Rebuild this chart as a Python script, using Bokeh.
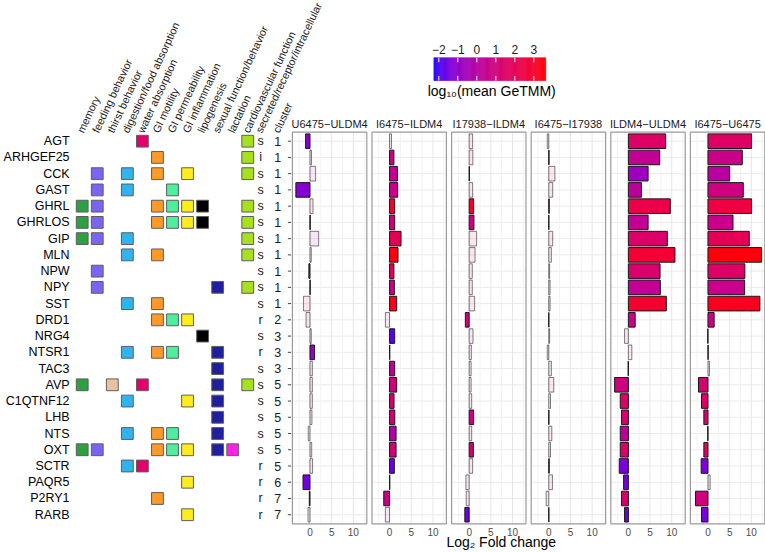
import numpy as np
from bokeh.plotting import figure
from bokeh.models import Range1d, ColumnDataSource, LinearColorMapper
from bokeh.transform import transform
from bokeh.embed import file_html
from bokeh.resources import INLINE
from bokeh.core.properties import value

# ---------------- data ----------------
genes = ["AGT", "ARHGEF25", "CCK", "GAST", "GHRL", "GHRLOS", "GIP", "MLN", "NPW", "NPY",
         "SST", "DRD1", "NRG4", "NTSR1", "TAC3", "AVP", "C1QTNF12", "LHB", "NTS", "OXT",
         "SCTR", "PAQR5", "P2RY1", "RARB"]

categories = ["memory", "feeding behavior", "thirst behavior", "digestion/food absorption",
              "water absorption", "GI motility", "GI permeability", "GI inflammation",
              "lipogenesis", "sexual function/behavior", "lactation", "cardiovascular function"]
category_colors = ["#2ca042", "#7a64f2", "#e8c2a2", "#30b4f0", "#e6006e", "#ff9a2a",
                   "#4def9e", "#ffec1c", "#000000", "#20209e", "#ff20e8", "#a6e01e"]
extra_columns = ["secreted/receptor/intracellular", "cluster"]

gene_functions = [
    ["water absorption", "cardiovascular function"],
    ["GI motility", "cardiovascular function"],
    ["feeding behavior", "digestion/food absorption", "GI motility", "GI inflammation", "cardiovascular function"],
    ["feeding behavior", "digestion/food absorption", "GI permeability"],
    ["memory", "feeding behavior", "GI motility", "GI permeability", "GI inflammation", "lipogenesis", "cardiovascular function"],
    ["memory", "feeding behavior", "GI motility", "GI permeability", "GI inflammation", "lipogenesis", "cardiovascular function"],
    ["memory", "feeding behavior", "digestion/food absorption", "cardiovascular function"],
    ["digestion/food absorption", "GI motility", "cardiovascular function"],
    ["feeding behavior"],
    ["feeding behavior", "sexual function/behavior", "cardiovascular function"],
    ["digestion/food absorption", "GI motility"],
    ["GI motility", "GI permeability", "GI inflammation"],
    ["lipogenesis"],
    ["digestion/food absorption", "GI motility", "GI permeability", "sexual function/behavior"],
    ["sexual function/behavior"],
    ["memory", "thirst behavior", "water absorption", "sexual function/behavior", "cardiovascular function"],
    ["digestion/food absorption", "GI inflammation", "sexual function/behavior"],
    ["sexual function/behavior"],
    ["digestion/food absorption", "GI motility", "GI permeability", "sexual function/behavior"],
    ["memory", "feeding behavior", "GI motility", "GI permeability", "GI inflammation", "sexual function/behavior", "lactation"],
    ["digestion/food absorption", "water absorption"],
    ["GI inflammation"],
    ["GI motility"],
    ["GI inflammation"],
]
gene_type = ["s", "i", "s", "s", "s", "s", "s", "s", "s", "s", "s", "r",
             "s", "r", "s", "s", "s", "s", "s", "s", "r", "r", "r", "r"]
gene_cluster = [1, 1, 1, 1, 1, 1, 1, 1, 1, 1, 1, 2, 3, 3, 3, 5, 5, 5, 5, 5, 5, 6, 7, 7]

comparisons = ["U6475\u2212ULDM4", "I6475\u2212ILDM4", "I17938\u2212ILDM4",
               "I6475\u2212I17938", "ILDM4\u2212ULDM4", "I6475\u2212U6475"]

# log2 fold change per comparison
fc_U6475_ULDM4 = [-1.0, 0.35, 1.3, -3.25, 0.7, 0.05, 2.0, 0.3, -0.25, 0.05, -1.5, -0.9,
                  0.3, 1.05, 0.55, 0.55, 0.55, 0.45, -0.4, 0.4, 0.6, -1.6, -0.15, -0.45]
fc_I6475_ILDM4 = [0.45, 1.0, 1.8, 1.87, 1.18, 1.18, 2.64, 1.95, 1.0, 1.1, 1.64, -0.96,
                  1.18, 0.05, 1.18, 1.64, 1.03, 1.2, 1.5, 1.5, 1.1, 0.05, -1.34, -0.96]
fc_I17938_ILDM4 = [0.8, 0.85, 0.05, 0.8, 1.03, 1.1, 1.72, 1.35, 0.72, 0.72, 1.26, -0.88,
                   0.88, 0.5, 0.45, 0.45, 0.58, 1.03, 0.58, 0.96, 0.8, -0.75, -0.68, -1.0]
fc_I6475_I17938 = [-0.35, 0.05, 1.41, 0.9, 0.1, 0.02, 0.9, 0.6, 0.2, 0.3, 0.3, 0.02,
                   0.2, -0.35, 0.6, 1.15, 0.4, 0.03, 0.7, 0.4, 0.1, 0.85, -0.6, 0.02]
fc_ILDM4_ULDM4 = [8.6, 7.22, 4.55, 3.0, 9.67, 4.55, 8.98, 10.74, 7.3, 7.37, 8.75, 1.57,
                  -0.88, 0.8, -0.05, -3.17, -1.87, -1.57, -1.87, -1.87, -2.1, -1.1, -1.57, -0.88]
fc_I6475_U6475 = [10.05, 7.91, 5.0, 8.14, 10.05, 5.77, 9.52, 12.35, 8.5, 8.45, 11.97, 1.42,
                  -0.05, 0.05, 0.35, -2.18, -1.49, -0.95, -0.05, -0.95, -1.57, 0.5, -2.87, -1.49]

# log10(mean GeTMM) per comparison
getmm_U6475_ULDM4 = [-1.1, 0.5, 0.0, -1.2, 2.5, 0.5, 0.0, 0.5, 1.0, 0.5, 2.5, 2.0,
                     0.0, -0.7, 1.5, 1.5, 1.5, 1.0, 0.5, 1.5, 0.0, -1.5, 1.0, 0.0]
getmm_I6475_ILDM4 = [0.5, 0.8, 0.5, 0.7, 3.0, 0.9, 2.0, 3.4, 1.9, 0.8, 3.2, 0.0,
                     -1.8, 0.5, 0.3, 0.9, 1.3, 1.0, -0.2, 1.2, -1.6, 0.5, 0.8, 0.0]
getmm_I17938_ILDM4 = [2.5, 2.5, 0.5, 2.0, 3.0, 0.8, 2.5, 2.5, 2.0, 2.0, 2.5, 1.0,
                      0.0, 0.5, 1.0, 1.0, 1.5, 0.9, 1.5, 1.4, 0.0, 0.0, 0.5, -1.6]
getmm_I6475_I17938 = [0.5, 0.5, 1.5, 1.5, 0.5, 0.5, 2.0, 1.5, 0.5, 0.5, 0.5, 0.5,
                      0.5, 0.5, 1.5, 2.5, 0.5, 0.5, 1.5, 0.5, 0.5, 0.0, 0.0, 0.5]
getmm_ILDM4_ULDM4 = [1.6, 0.4, -0.7, 0.2, 2.3, 0.4, 1.5, 2.8, 1.4, 0.4, 2.9, 0.8,
                     0.0, 0.5, 0.5, 0.9, 1.7, 1.3, 0.2, 1.6, -1.4, -1.5, 1.4, -1.6]
getmm_I6475_U6475 = [1.6, 0.7, 0.1, 0.9, 2.5, 0.6, 2.0, 3.5, 1.6, 0.6, 3.2, 0.8,
                     0.5, 0.5, 0.5, 1.3, 1.6, 1.5, 0.5, 1.8, -1.3, 0.0, 1.0, -1.4]

# significance (1 = significant)
sig_U6475_ULDM4 = [1, 0, 0, 1, 0, 1, 0, 0, 1, 1, 0, 0, 0, 1, 0, 0, 0, 0, 0, 0, 0, 1, 1, 0]
sig_I6475_ILDM4 = [0, 1, 1, 1, 1, 1, 1, 1, 1, 1, 1, 0, 1, 1, 1, 1, 1, 1, 1, 1, 1, 1, 1, 0]
sig_I17938_ILDM4 = [0, 0, 1, 0, 1, 1, 0, 0, 0, 0, 0, 1, 0, 0, 0, 0, 0, 1, 0, 1, 0, 0, 0, 1]
sig_I6475_I17938 = [0, 1, 0, 0, 1, 1, 0, 0, 0, 0, 0, 1, 0, 0, 0, 0, 0, 1, 0, 0, 1, 0, 0, 1]
sig_ILDM4_ULDM4 = [1, 1, 1, 1, 1, 1, 1, 1, 1, 1, 1, 1, 0, 0, 1, 1, 1, 1, 1, 1, 1, 1, 1, 1]
sig_I6475_U6475 = [1, 1, 1, 1, 1, 1, 1, 1, 1, 1, 1, 1, 1, 1, 0, 1, 1, 1, 1, 1, 1, 0, 1, 1]

fold_changes = [fc_U6475_ULDM4, fc_I6475_ILDM4, fc_I17938_ILDM4,
                fc_I6475_I17938, fc_ILDM4_ULDM4, fc_I6475_U6475]
getmm_values = [getmm_U6475_ULDM4, getmm_I6475_ILDM4, getmm_I17938_ILDM4,
                getmm_I6475_I17938, getmm_ILDM4_ULDM4, getmm_I6475_U6475]
significance = [sig_U6475_ULDM4, sig_I6475_ILDM4, sig_I17938_ILDM4,
                sig_I6475_I17938, sig_ILDM4_ULDM4, sig_I6475_U6475]

fc_ticks = [0, 5, 10]
fc_minor = [-2.5, 2.5, 7.5, 12.5]
getmm_ticks = [-2, -1, 0, 1, 2, 3]
getmm_low, getmm_high = -2.26, 3.63

# ---------------- colour scale (ggplot-like Lab gradient blue -> red) ----------------
def _lin(c):
    return c / 12.92 if c <= 0.04045 else ((c + 0.055) / 1.055) ** 2.4

def _gam(c):
    c = min(max(c, 0.0), 1.0)
    return 12.92 * c if c <= 0.0031308 else 1.055 * c ** (1 / 2.4) - 0.055

WHITE = (0.95047, 1.0, 1.08883)

def _f(t):
    d = 6 / 29
    return t ** (1 / 3) if t > d ** 3 else t / (3 * d * d) + 4 / 29

def _finv(t):
    d = 6 / 29
    return t ** 3 if t > d else 3 * d * d * (t - 4 / 29)

def hex2lab(h):
    r, g, b = [_lin(int(h[i:i + 2], 16) / 255) for i in (1, 3, 5)]
    X = 0.4124 * r + 0.3576 * g + 0.1805 * b
    Y = 0.2126 * r + 0.7152 * g + 0.0722 * b
    Z = 0.0193 * r + 0.1192 * g + 0.9505 * b
    fx, fy, fz = _f(X / WHITE[0]), _f(Y / WHITE[1]), _f(Z / WHITE[2])
    return (116 * fy - 16, 500 * (fx - fy), 200 * (fy - fz))

def lab2hex(L, a, b):
    fy = (L + 16) / 116
    fx = fy + a / 500
    fz = fy - b / 200
    X, Y, Z = WHITE[0] * _finv(fx), WHITE[1] * _finv(fy), WHITE[2] * _finv(fz)
    r = 3.2406 * X - 1.5372 * Y - 0.4986 * Z
    g = -0.9689 * X + 1.8758 * Y + 0.0415 * Z
    bb = 0.0557 * X - 0.2040 * Y + 1.0570 * Z
    return "#%02x%02x%02x" % tuple(int(round(_gam(c) * 255)) for c in (r, g, bb))

lab_lo, lab_hi = hex2lab("#0000ff"), hex2lab("#ff0000")
palette = [lab2hex(*[lo + t * (hi - lo) for lo, hi in zip(lab_lo, lab_hi)])
           for t in np.linspace(0, 1, 256)]
mapper = LinearColorMapper(palette=palette, low=getmm_low, high=getmm_high)

# ---------------- geometry (screen px of the 765 x 552 canvas) ----------------
W, H = 765, 552
COL0, COLW = 81.7, 15.05        # px of first matrix column, column spacing
ROW0, ROWH = 140.7, 16.24       # px of first gene row, row spacing
PLO, PHI = -4.05, 13.1          # fold-change axis limits of each panel
PANEL_X0, PANEL_STEP, PANEL_W = 291.9, 79.6, 74.4
PANEL_TOP, PANEL_BOT = -0.554, 23.56
CB_ZERO, CB_UNIT = 476.3, 19.0  # px of GeTMM 0, px per unit

FONT = value("Liberation Sans")

x_range = Range1d(-COL0 / COLW, (W - COL0) / COLW)
y_range = Range1d((H - ROW0) / ROWH, -ROW0 / ROWH)

p = figure(width=W, height=H, x_range=x_range, y_range=y_range,
           x_axis_type=None, y_axis_type=None, min_border=0,
           toolbar_location=None, output_backend="svg",
           outline_line_color=None, background_fill_color="white",
           border_fill_color="white")

ppu = PANEL_W / (PHI - PLO)
for i in range(len(comparisons)):
    left = PANEL_X0 + PANEL_STEP * i
    p.extra_x_ranges[f"p{i}"] = Range1d(PLO - left / ppu, PHI + (W - left - PANEL_W) / ppu)
p.extra_x_ranges["cb"] = Range1d(-CB_ZERO / CB_UNIT, (W - CB_ZERO) / CB_UNIT)

rows = list(range(len(genes)))

# ---------------- left matrix ----------------
p.text(x=-0.84, y=rows, text=genes, text_align="right", text_baseline="middle",
       text_font=FONT, text_font_size=value("12.5px"), text_color="#000000")

sq_x, sq_y, sq_c = [], [], []
for r, funcs in enumerate(gene_functions):
    for f in funcs:
        k = categories.index(f)
        sq_x.append(k)
        sq_y.append(r)
        sq_c.append(category_colors[k])
p.scatter(x=sq_x, y=sq_y, marker="square", size=11.8, fill_color=sq_c,
          line_color="#5e5e5e", line_width=1)

p.text(x=11.85, y=rows, text=gene_type, text_align="center", text_baseline="middle",
       text_font=FONT, text_font_size=value("12.5px"), text_color="#1a1a1a")
p.text(x=13.0, y=rows, text=[str(c) for c in gene_cluster], text_align="center",
       text_baseline="middle", text_font=FONT, text_font_size=value("12.5px"),
       text_color="#1a1a1a")

header_x = [k + 0.22 for k in range(len(categories))] + [12.07, 13.22]
p.text(x=header_x, y=-0.4, text=categories + extra_columns, angle=65, angle_units="deg",
       text_align="left", text_baseline="bottom", text_font=FONT,
       text_font_size=value("10.8px"), text_color="#1a1a1a")

# row ticks on the left of the first panel
p.segment(x0=PLO - 1.05, x1=PLO - 0.3, y0=rows, y1=rows, x_range_name="p0",
          line_color="#444444", line_width=1)

# ---------------- bar panels ----------------
for i, name in enumerate(comparisons):
    rn = f"p{i}"
    # grid
    p.segment(x0=PLO, x1=PHI, y0=rows, y1=rows, x_range_name=rn,
              line_color="#ebebeb", line_width=1)
    p.segment(x0=fc_minor, x1=fc_minor, y0=PANEL_TOP, y1=PANEL_BOT, x_range_name=rn,
              line_color="#f2f2f2", line_width=1)
    p.segment(x0=fc_ticks, x1=fc_ticks, y0=PANEL_TOP, y1=PANEL_BOT, x_range_name=rn,
              line_color="#e6e6e6", line_width=1)
    sig = significance[i]
    src = ColumnDataSource(dict(
        y=rows, fc=fold_changes[i], g=getmm_values[i],
        fa=[1.0 if s else 0.1 for s in sig],
        la=[1.0 if s else 0.55 for s in sig]))
    p.hbar(y="y", left=0, right="fc", height=0.9, source=src, x_range_name=rn,
           fill_color=transform("g", mapper), fill_alpha="fa",
           line_color="#1a1a1a", line_alpha="la", line_width=1)
    p.quad(left=PLO, right=PHI, top=PANEL_TOP, bottom=PANEL_BOT, x_range_name=rn,
           fill_color=None, line_color="#9a9a9a", line_width=1.2)
    p.text(x=fc_ticks, y=24.08, text=[str(t) for t in fc_ticks], x_range_name=rn,
           text_align="center", text_baseline="middle", text_font=FONT,
           text_font_size=value("10px"), text_color="#4d4d4d")
    p.text(x=(PLO + PHI) / 2, y=-1.07, text=[name], x_range_name=rn,
           text_align="center", text_baseline="middle", text_font=FONT,
           text_font_size=value("11px"), text_color="#1a1a1a")

p.text(x=7.4, y=24.69, text=["Log\u2082 Fold change"], x_range_name="p2",
       text_align="center", text_baseline="middle", text_font=FONT,
       text_font_size=value("14px"), text_color="#000000")

# ---------------- colour bar ----------------
edges = np.linspace(getmm_low, getmm_high, 121)
mids = (edges[:-1] + edges[1:]) / 2
cb_src = ColumnDataSource(dict(l=edges[:-1], r=edges[1:], v=mids))
p.quad(left="l", right="r", top=-5.136, bottom=-3.737, source=cb_src, x_range_name="cb",
       fill_color=transform("v", mapper), line_color=transform("v", mapper), line_width=0.5)
p.segment(x0=getmm_ticks, x1=getmm_ticks, y0=-5.136, y1=-4.86, x_range_name="cb",
          line_color="white", line_width=1)
p.segment(x0=getmm_ticks, x1=getmm_ticks, y0=-4.02, y1=-3.737, x_range_name="cb",
          line_color="white", line_width=1)
p.text(x=getmm_ticks, y=-5.62, text=[str(t).replace("-", "\u2212") for t in getmm_ticks],
       x_range_name="cb", text_align="center", text_baseline="middle", text_font=FONT,
       text_font_size=value("12px"), text_color="#1a1a1a")
p.text(x=(getmm_low + getmm_high) / 2 + 0.1, y=-3.12, text=["log\u2081\u2080(mean GeTMM)"],
       x_range_name="cb", text_align="center", text_baseline="middle", text_font=FONT,
       text_font_size=value("14px"), text_color="#000000")

open("out.html", "w").write(file_html(p, INLINE))
